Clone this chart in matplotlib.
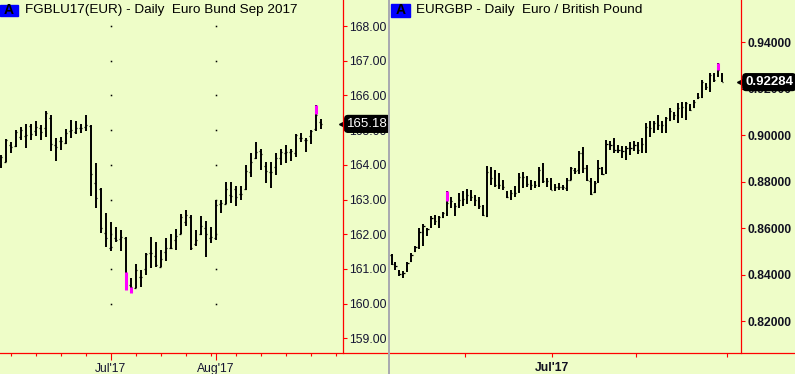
import matplotlib
matplotlib.use("Agg")
import matplotlib.pyplot as plt
from matplotlib.lines import Line2D
from matplotlib.patches import Rectangle
from matplotlib.transforms import blended_transform_factory

# ---- Euro Bund Sep 2017, daily bars (Jun 1 .. Aug 29)
bund_open = [164.00, 164.09, 164.57, 164.55, 164.81, 164.84, 165.13, 164.97, 165.07, 165.07,
             165.36, 164.57, 164.69, 164.64, 164.97, 164.95, 165.07, 165.10, 165.13, 163.47,
             163.30, 162.05, 161.59, 161.90, 161.86, 161.88, 160.55, 160.46, 160.77, 161.00,
             161.45, 161.38, 161.06, 161.50, 161.61, 161.83, 162.02, 162.36, 162.50, 161.71,
             162.02, 162.17, 161.90, 161.90, 162.87, 162.87, 163.13, 163.29, 163.15, 163.29,
             163.80, 164.20, 164.41, 163.97, 163.80, 163.95, 164.19, 164.35, 164.38, 164.33,
             164.78, 164.72, 164.83, 165.02, 165.24]
bund_high = [164.28, 164.74, 164.65, 165.00, 165.10, 165.19, 165.19, 165.26, 165.15, 165.55,
             165.45, 164.76, 164.81, 165.03, 165.29, 165.26, 165.17, 165.45, 165.15, 164.04,
             163.32, 162.62, 162.34, 162.22, 162.12, 161.93, 160.75, 161.14, 160.97, 161.45,
             161.93, 161.78, 161.54, 161.88, 162.02, 162.15, 162.58, 162.70, 162.55, 162.12,
             162.52, 162.38, 162.22, 163.00, 162.99, 163.51, 163.51, 163.39, 163.39, 163.99,
             164.33, 164.65, 164.45, 164.09, 164.07, 164.33, 164.47, 164.57, 164.47, 164.89,
             164.91, 164.78, 165.00, 165.72, 165.31]
bund_low = [163.90, 164.07, 164.33, 164.52, 164.71, 164.49, 164.73, 164.83, 164.73, 164.81,
            164.41, 164.12, 164.43, 164.59, 164.78, 164.88, 164.93, 164.98, 163.11, 162.76,
            162.05, 161.64, 161.52, 161.78, 161.52, 160.41, 160.30, 160.44, 160.49, 160.84,
            161.02, 161.06, 161.06, 161.23, 161.57, 161.54, 162.00, 162.25, 161.56, 161.66,
            161.98, 161.35, 161.74, 161.83, 162.62, 162.87, 162.89, 162.81, 163.00, 163.27,
            163.64, 164.17, 163.85, 163.47, 163.34, 163.71, 163.99, 164.04, 164.12, 164.23,
            164.67, 164.36, 164.59, 164.98, 165.02]
bund_close = [164.23, 164.71, 164.52, 164.95, 165.00, 164.86, 164.88, 165.10, 164.95, 165.48,
              164.59, 164.52, 164.69, 164.91, 165.00, 165.07, 165.07, 165.15, 163.75, 163.05,
              162.17, 161.90, 161.64, 161.83, 161.93, 160.50, 160.49, 160.97, 160.77, 161.42,
              161.47, 161.11, 161.29, 161.61, 161.61, 161.96, 162.50, 162.55, 161.59, 161.83,
              162.25, 162.02, 161.93, 162.84, 162.89, 163.29, 163.10, 163.08, 163.15, 163.83,
              164.09, 164.38, 164.30, 163.83, 163.80, 164.21, 164.36, 164.38, 164.41, 164.86,
              164.78, 164.73, 164.98, 165.43, 165.18]
bund_flag_idx = [25, 26, 63]
bund_flag_lo = [160.39, 160.30, 165.46]
bund_flag_hi = [160.92, 160.49, 165.72]
bund_last = 165.18
bund_yticks = [159, 160, 161, 162, 163, 164, 165, 166, 167, 168]
bund_month_idx = [22, 43]
bund_month_labels = ["Jul'17", "Aug'17"]
bund_week_idx = list(range(2, 68, 5))

# ---- EURGBP daily bars
eg_open = [0.8485, 0.8445, 0.8416, 0.8402, 0.8425, 0.8459, 0.8502, 0.8521, 0.8583, 0.8593,
           0.8607, 0.8636, 0.8629, 0.8646, 0.8664, 0.8707, 0.8693, 0.8700, 0.8722, 0.8726,
           0.8740, 0.8726, 0.8715, 0.8686, 0.8651, 0.8842, 0.8844, 0.8789, 0.8801, 0.8736,
           0.8736, 0.8750, 0.8758, 0.8818, 0.8815, 0.8793, 0.8786, 0.8786, 0.8841, 0.8801,
           0.8801, 0.8772, 0.8779, 0.8775, 0.8772, 0.8808, 0.8851, 0.8851, 0.8922, 0.8858,
           0.8801, 0.8755, 0.8801, 0.8858, 0.8841, 0.8961, 0.8973, 0.8937, 0.8944, 0.8923,
           0.8937, 0.8951, 0.8958, 0.8937, 0.8933, 0.9023, 0.9027, 0.9044, 0.9044, 0.9044,
           0.9066, 0.9080, 0.9087, 0.9119, 0.9116, 0.9116, 0.9123, 0.9159, 0.9166, 0.9216,
           0.9202, 0.9259, 0.9259, 0.9259]
eg_high = [0.8488, 0.8454, 0.8421, 0.8416, 0.8454, 0.8492, 0.8521, 0.8600, 0.8617, 0.8600,
           0.8650, 0.8657, 0.8650, 0.8669, 0.8758, 0.8732, 0.8707, 0.8750, 0.8760, 0.8769,
           0.8765, 0.8743, 0.8736, 0.8700, 0.8867, 0.8864, 0.8851, 0.8836, 0.8808, 0.8758,
           0.8765, 0.8783, 0.8836, 0.8841, 0.8826, 0.8808, 0.8801, 0.8861, 0.8880, 0.8815,
           0.8815, 0.8789, 0.8793, 0.8786, 0.8815, 0.8865, 0.8858, 0.8932, 0.8951, 0.8872,
           0.8815, 0.8801, 0.8894, 0.8865, 0.8980, 0.8973, 0.8987, 0.8958, 0.8955, 0.8955,
           0.8970, 0.8976, 0.8970, 0.8987, 0.9052, 0.9062, 0.9059, 0.9087, 0.9059, 0.9080,
           0.9119, 0.9099, 0.9138, 0.9142, 0.9145, 0.9133, 0.9152, 0.9181, 0.9238, 0.9224,
           0.9267, 0.9267, 0.9310, 0.9267]
eg_low = [0.8439, 0.8421, 0.8392, 0.8385, 0.8413, 0.8454, 0.8497, 0.8511, 0.8521, 0.8568,
          0.8600, 0.8614, 0.8600, 0.8643, 0.8654, 0.8686, 0.8654, 0.8686, 0.8693, 0.8703,
          0.8715, 0.8693, 0.8683, 0.8650, 0.8649, 0.8786, 0.8779, 0.8769, 0.8765, 0.8729,
          0.8722, 0.8736, 0.8750, 0.8772, 0.8775, 0.8765, 0.8772, 0.8775, 0.8793, 0.8775,
          0.8765, 0.8760, 0.8765, 0.8765, 0.8758, 0.8808, 0.8832, 0.8832, 0.8836, 0.8801,
          0.8743, 0.8750, 0.8793, 0.8829, 0.8832, 0.8937, 0.8922, 0.8922, 0.8901, 0.8894,
          0.8915, 0.8930, 0.8918, 0.8922, 0.8922, 0.8994, 0.9008, 0.9023, 0.9008, 0.9008,
          0.9062, 0.9066, 0.9052, 0.9076, 0.9066, 0.9102, 0.9116, 0.9156, 0.9159, 0.9195,
          0.9188, 0.9231, 0.9252, 0.9228]
eg_close = [0.8445, 0.8435, 0.8402, 0.8406, 0.8449, 0.8485, 0.8517, 0.8583, 0.8607, 0.8597,
            0.8643, 0.8629, 0.8646, 0.8664, 0.8707, 0.8715, 0.8697, 0.8722, 0.8726, 0.8743,
            0.8736, 0.8722, 0.8693, 0.8657, 0.8842, 0.8816, 0.8786, 0.8786, 0.8779, 0.8733,
            0.8750, 0.8750, 0.8818, 0.8818, 0.8789, 0.8786, 0.8786, 0.8851, 0.8803, 0.8801,
            0.8765, 0.8779, 0.8779, 0.8775, 0.8808, 0.8858, 0.8846, 0.8922, 0.8858, 0.8808,
            0.8746, 0.8793, 0.8858, 0.8832, 0.8961, 0.8958, 0.8937, 0.8937, 0.8930, 0.8944,
            0.8944, 0.8958, 0.8937, 0.8961, 0.9037, 0.9030, 0.9052, 0.9044, 0.9044, 0.9073,
            0.9105, 0.9087, 0.9119, 0.9123, 0.9138, 0.9109, 0.9145, 0.9166, 0.9231, 0.9209,
            0.9259, 0.9238, 0.9281, 0.9228]
eg_flag_idx = [14, 82]
eg_flag_lo = [0.8715, 0.9281]
eg_flag_hi = [0.8758, 0.9310]
eg_last = 0.92284
eg_yticks = [0.82, 0.84, 0.86, 0.88, 0.90, 0.92, 0.94]
eg_month_idx = [18, 40, 61, 84]
eg_month_labels = ["", "Jul'17", "", ""]

BG = "#EEFDC8"
RED = "#FF0000"
LBL = "#141432"
W, H = 795, 374
BOT = 353.3  # pixel row of the red base line

plt.rcParams["font.family"] = ["Liberation Sans", "DejaVu Sans"]

fig = plt.figure(figsize=(W / 100, H / 100), dpi=100, facecolor=BG)


def add_panel(x0, x1):
    a = fig.add_axes([x0 / W, (H - BOT) / H, (x1 - x0) / W, BOT / H])
    a.set_facecolor(BG)
    for s in a.spines.values():
        s.set_visible(False)
    return a


def draw_ohlc(a, o, h, l, c, tick):
    x = list(range(len(o)))
    a.vlines(x, l, h, color="black", lw=1.4)
    a.hlines(o, [i - tick for i in x], x, color="black", lw=0.9)
    a.hlines(c, x, [i + tick for i in x], color="black", lw=0.9)


def fig_line(x0, y0, x1, y1, color, lw=0.9):
    fig.add_artist(Line2D([x0 / W, x1 / W], [1 - y0 / H, 1 - y1 / H],
                          transform=fig.transFigure, color=color, lw=lw))


def title_box(x0, y0, x1, y1, text_x, title):
    fig.add_artist(Rectangle((x0 / W, 1 - y1 / H), (x1 - x0) / W, (y1 - y0) / H,
                             transform=fig.transFigure, color="#0000FF"))
    fig.text((x0 + x1) / 2 / W, 1 - (y0 + y1) / 2 / H, "A", ha="center", va="center",
             fontsize=10, fontweight="bold", color="black")
    fig.text(text_x / W, 1 - (y0 + y1) / 2 / H, title, ha="left", va="center",
             fontsize=9.7, color="black")


def price_tag(a, val, label, weight):
    tr = blended_transform_factory(a.transAxes, a.transData)
    a.plot([1.0], [val], marker="<", ms=6, color="black", transform=tr, clip_on=False, zorder=6)
    a.text(1.012, val, label, transform=tr, ha="left", va="center", color="white",
           fontsize=9.5, fontweight=weight, zorder=7, clip_on=False,
           bbox=dict(boxstyle="round,pad=0.18,rounding_size=0.25", fc="black", ec="black"))


# ---------------- left panel: Euro Bund
ax1 = add_panel(0, 343)
draw_ohlc(ax1, bund_open, bund_high, bund_low, bund_close, 0.35)
ax1.vlines(bund_flag_idx, bund_flag_lo, bund_flag_hi, color="#FF00FF", lw=2.2, zorder=4)
for mx in bund_month_idx:
    ax1.plot([mx] * 9, bund_yticks[1:], ls="none", marker="s", ms=1.1, mew=0, color="black")
ax1.set_xlim(-0.1, 68.5)
ax1.set_ylim(158.57, 168.75)
ax1.yaxis.tick_right()
ax1.set_yticks(bund_yticks)
ax1.set_yticklabels([f"{v:.2f}" for v in bund_yticks])
ax1.tick_params(axis="y", colors=RED, labelcolor=LBL, length=3, width=0.8, pad=1.5,
                labelsize=8.7)
ax1.set_xticks(bund_month_idx)
ax1.set_xticklabels(bund_month_labels)
ax1.set_xticks(bund_week_idx, minor=True)
ax1.tick_params(axis="x", which="major", colors=RED, labelcolor=LBL, length=5, width=0.8,
                pad=2, labelsize=8.7)
ax1.tick_params(axis="x", which="minor", colors=RED, length=2.5, width=0.8)
price_tag(ax1, bund_last, f"{bund_last:.2f}", "normal")

# ---------------- right panel: EURGBP
ax2 = add_panel(389, 741)
draw_ohlc(ax2, eg_open, eg_high, eg_low, eg_close, 0.3)
ax2.vlines(eg_flag_idx, eg_flag_lo, eg_flag_hi, color="#FF00FF", lw=2.2, zorder=4)
ax2.set_xlim(-0.63, 87.8)
ax2.set_ylim(0.8061, 0.9582)
ax2.yaxis.tick_right()
ax2.set_yticks(eg_yticks)
ax2.set_yticklabels([f"{v:.5f}" for v in eg_yticks])
ax2.tick_params(axis="y", colors=RED, labelcolor="#101020", length=3, width=0.8, pad=1.5,
                labelsize=8.7)
for t in ax2.get_yticklabels():
    t.set_fontweight("bold")
ax2.set_xticks([m + 0.4 for m in eg_month_idx])
ax2.set_xticklabels(eg_month_labels, fontweight="bold")
ax2.tick_params(axis="x", colors=RED, labelcolor="#101020", length=3, width=0.8, pad=3,
                labelsize=8.7)
price_tag(ax2, eg_last, f"{eg_last:.5f}", "bold")

# frame lines
fig_line(0, BOT, 388, BOT, RED)
fig_line(390, BOT, 795, BOT, RED)
fig_line(343, 0, 343, BOT, RED)
fig_line(741, 0, 741, BOT, RED)
fig_line(389, 0, 389, H, "#A8A8B0", lw=1.4)

title_box(0, 5, 18, 16, 25, "FGBLU17(EUR) - Daily  Euro Bund Sep 2017")
title_box(391, 4, 410, 17, 416, "EURGBP - Daily  Euro / British Pound")

fig.savefig("out.png", dpi=100, facecolor=BG)
